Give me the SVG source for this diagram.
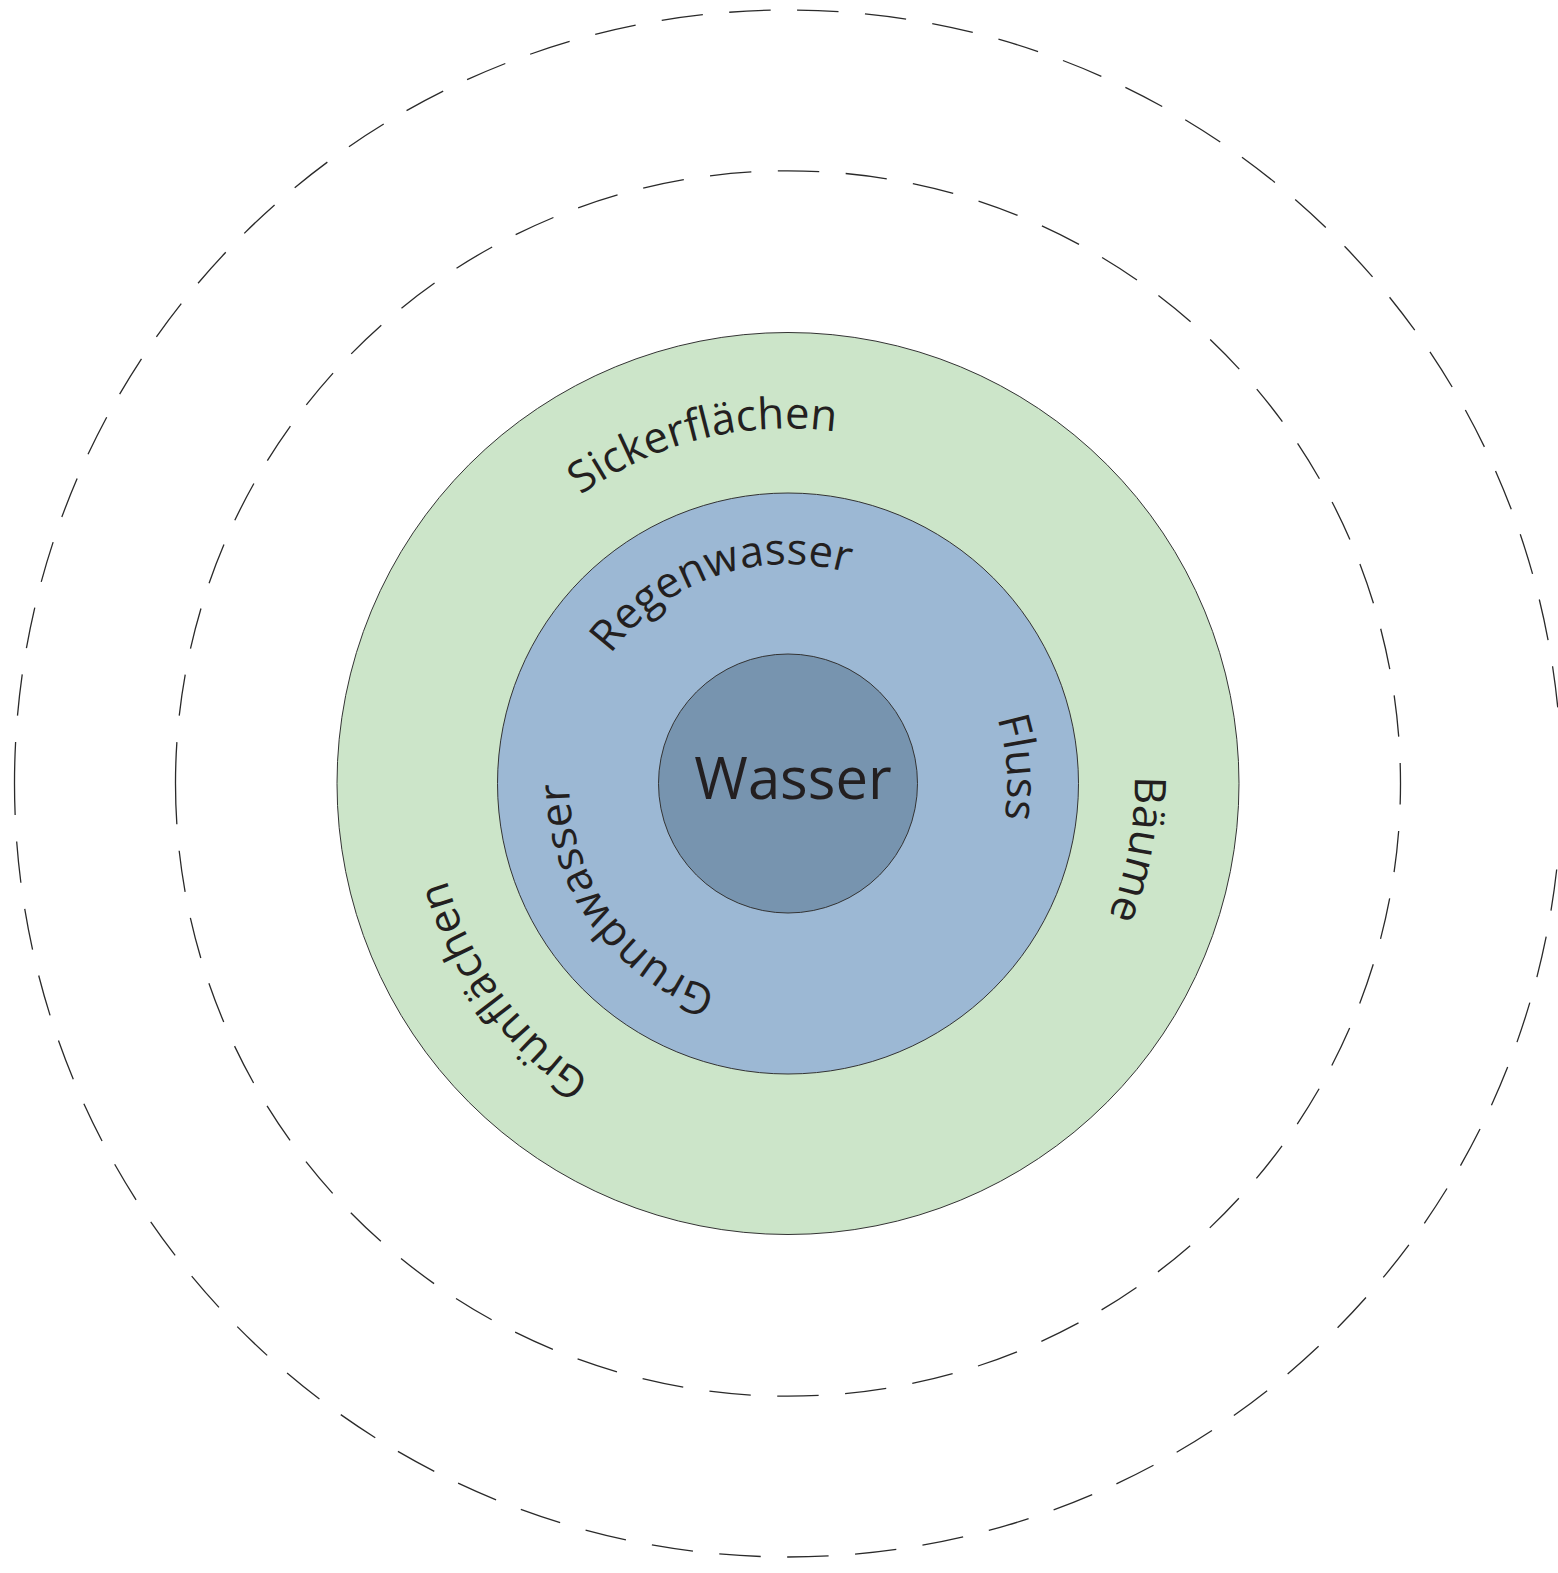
<svg xmlns="http://www.w3.org/2000/svg" xmlns:xlink="http://www.w3.org/1999/xlink" width="1558" height="1573" viewBox="0 0 1558 1573">
<style>
.dash{fill:none;stroke:#2a2a2a;stroke-width:1.3;stroke-dasharray:41.5 26.5}
.ring{stroke:#333333;stroke-width:1}
.lbl{font-family:"Open Sans","Noto Sans",sans-serif;font-size:43.5px;fill:#231f20}
.center{font-family:"Open Sans","Noto Sans",sans-serif;font-size:58px;fill:#231f20}
</style>
<defs>
<path id="pSicker" d="M 437.4 839.0 A 355 355 0 0 1 1123.7 667.9"/>
<path id="pRegen" d="M 575.5 836.5 A 219 219 0 0 1 988.1 694.4"/>
<path id="pFluss" d="M 791.8 564.5 A 219 219 0 0 1 822.3 999.8"/>
<path id="pBaeume" d="M 882.7 443.1 A 355 355 0 0 1 754.0 1136.9"/>
<path id="pGrund" d="M 899.1 972.2 A 219 219 0 0 1 645.8 617.0"/>
<path id="pGruen" d="M 970.8 1087.8 A 355 355 0 0 1 555.1 515.6"/>
</defs>
<rect width="1558" height="1573" fill="#ffffff"/>
<g id="outer-dashed">
<path class="dash" d="M 14.5 783.5 A 773.5 773.5 0 1 1 1561.5 783.5 A 773.5 773.5 0 1 1 14.5 783.5"/>
</g>
<g id="inner-dashed">
<path class="dash" d="M 175.5 783.5 A 612.5 612.5 0 1 1 1400.5 783.5 A 612.5 612.5 0 1 1 175.5 783.5"/>
</g>
<g id="green-ring">
<circle class="ring" cx="788" cy="783.5" r="451" fill="#cce5c9"/>
<text class="lbl"><textPath xlink:href="#pSicker" href="#pSicker" startOffset="50%" text-anchor="middle">Sickerflächen</textPath></text>
<text class="lbl"><textPath xlink:href="#pBaeume" href="#pBaeume" startOffset="50%" text-anchor="middle">Bäume</textPath></text>
<text class="lbl"><textPath xlink:href="#pGruen" href="#pGruen" startOffset="50%" text-anchor="middle">Grünflächen</textPath></text>
</g>
<g id="blue-ring">
<circle class="ring" cx="788" cy="783.5" r="290.5" fill="#9cb8d4"/>
<text class="lbl"><textPath xlink:href="#pRegen" href="#pRegen" startOffset="50%" text-anchor="middle">Regenwasser</textPath></text>
<text class="lbl"><textPath xlink:href="#pFluss" href="#pFluss" startOffset="50%" text-anchor="middle">Fluss</textPath></text>
<text class="lbl"><textPath xlink:href="#pGrund" href="#pGrund" startOffset="50%" text-anchor="middle">Grundwasser</textPath></text>
</g>
<g id="wasser">
<circle class="ring" cx="788" cy="783.5" r="129.5" fill="#7794af"/>
<text class="center" x="793" y="799" text-anchor="middle">Wasser</text>
</g>
</svg>
